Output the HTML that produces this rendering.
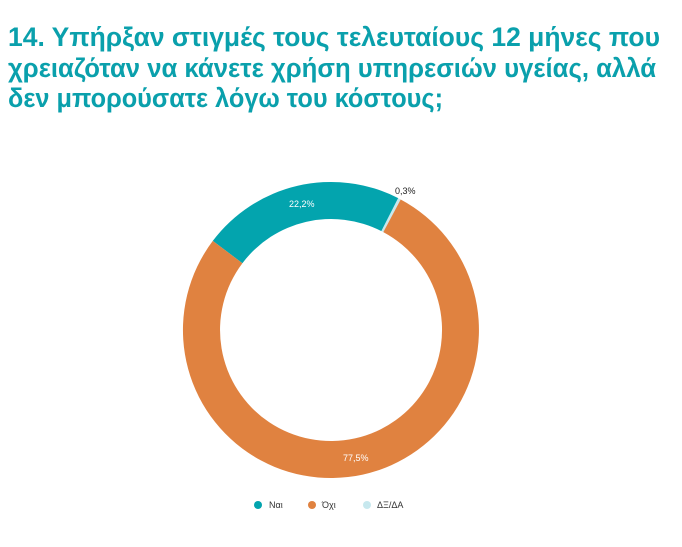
<!DOCTYPE html>
<html><head><meta charset="utf-8"><style>
html,body{margin:0;padding:0;background:#fff;}
svg{display:block;}
</style></head><body>
<svg width="682" height="547" viewBox="0 0 682 547" xmlns="http://www.w3.org/2000/svg">
<g font-family="Liberation Sans, DejaVu Sans, sans-serif" font-weight="bold" font-size="27" fill="#0aa0ac">
<text x="8" y="46" textLength="652" lengthAdjust="spacingAndGlyphs">14. Υπήρξαν στιγμές τους τελευταίους 12 μήνες που</text>
<text x="8" y="77" textLength="648" lengthAdjust="spacingAndGlyphs">χρειαζόταν να κάνετε χρήση υπηρεσιών υγείας, αλλά</text>
<text x="8" y="107" textLength="435" lengthAdjust="spacingAndGlyphs">δεν μπορούσατε λόγω του κόστους;</text>
</g>
<path d="M212.8,240.9 A148,148 0 0 1 398.2,198.1 L381.4,231.1 A111,111 0 0 0 242.4,263.2 Z" fill="#03a4ae"/>
<path d="M398.2,198.1 A148,148 0 0 1 400.7,199.5 L383.3,232.1 A111,111 0 0 0 381.4,231.1 Z" fill="#c7e8ee"/>
<path d="M400.7,199.5 A148,148 0 1 1 212.8,240.9 L242.4,263.2 A111,111 0 1 0 383.3,232.1 Z" fill="#e08240"/>
<g font-family="Liberation Sans, DejaVu Sans, sans-serif" font-size="9">
<text x="289" y="207" fill="#fff">22,2%</text>
<text x="343" y="461" fill="#fff">77,5%</text>
<text x="395" y="194" fill="#222">0,3%</text>
<circle cx="258" cy="505" r="4" fill="#03a4ae"/>
<text x="269" y="508" fill="#333">Ναι</text>
<circle cx="312" cy="505" r="4" fill="#e08240"/>
<text x="322" y="508" fill="#333">Όχι</text>
<circle cx="367" cy="505" r="4" fill="#c7e8ee"/>
<text x="377" y="508" fill="#333">ΔΞ/ΔΑ</text>
</g>
</svg>
</body></html>
